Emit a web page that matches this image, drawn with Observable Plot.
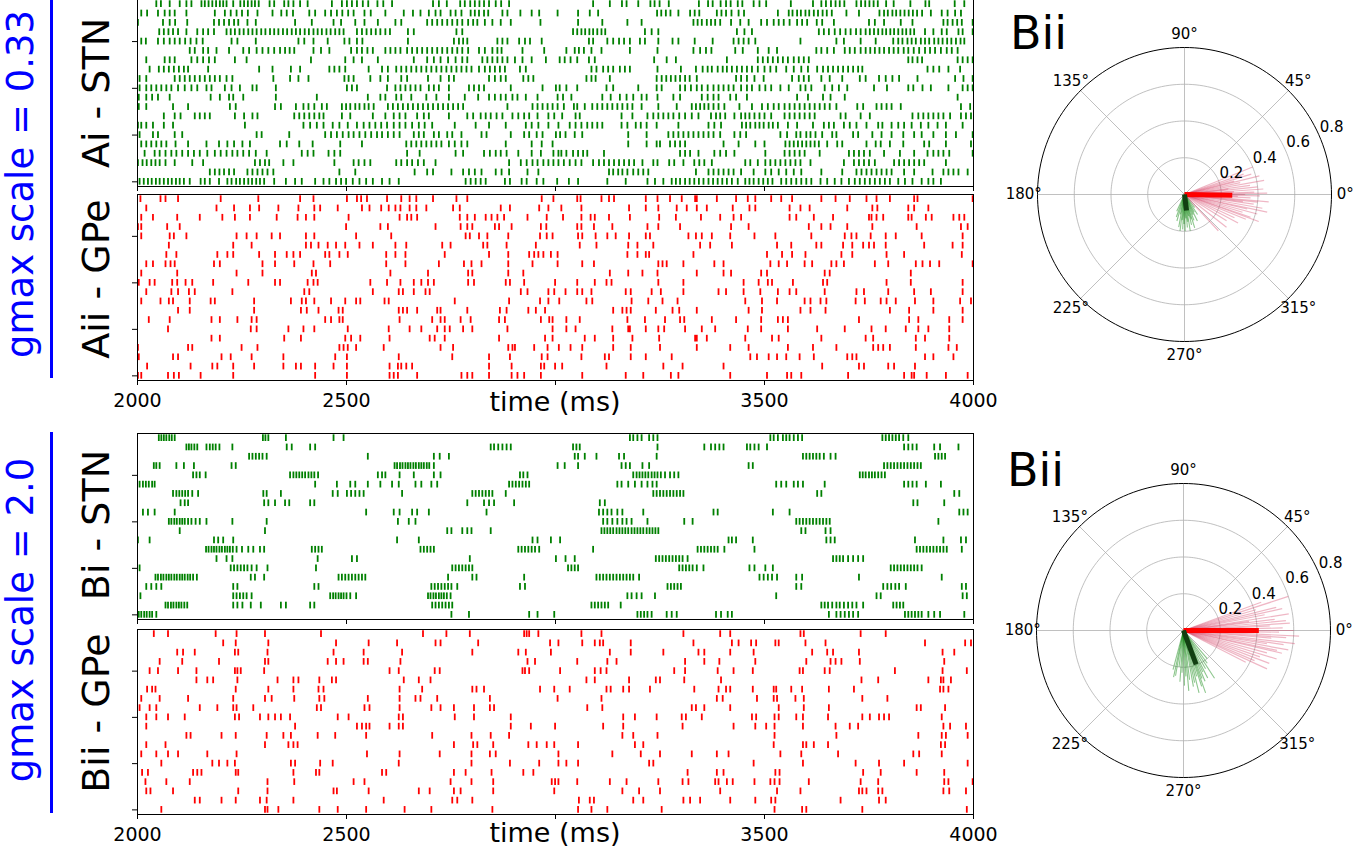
<!DOCTYPE html>
<html>
<head>
<meta charset="utf-8">
<script src="https://cdn.jsdelivr.net/npm/d3@7"></script>
<script src="https://cdn.jsdelivr.net/npm/@observablehq/plot@0.6"></script>
<style>
html,body{margin:0;padding:0;background:#fff;overflow:hidden;}
#fig{position:relative;width:1354px;height:849px;background:#fff;overflow:hidden;}
#fig > div{position:absolute;}
</style>
</head>
<body>
<div id="fig"></div>
<script>
// ---------------- DATA ----------------
// spike times, ms after 2000, one string per neuron row (listed top row first)
const xTicks = [2000, 2500, 3000, 3500, 4000];
const xTickLabels = ["2000", "2500", "", "3500", "4000"];
const rowTicks = [0, 5, 10, 15];
const panelLabels = ["Ai - STN", "Aii - GPe", "Bi - STN", "Bii - GPe"];
const scaleLabels = ["gmax scale = 0.33", "gmax scale = 2.0"];
const polarTitles = ["Bii", "Bii"];
const xLabel = "time (ms)";

const stnA = [
"45 56 77 101 117 129 153 161 170 179 188 197 205 213 229 246 255 264 273 281 290 316 327 351 361 373 389 407 465 489 501 513 525 539 552 574 588 609 707 721 740 772 783 796 807 818 829 841 857 870 889 1090 1130 1159 1170 1198 1227 1237 1249 1271 1343 1365 1376 1395 1408 1419 1436 1447 1474 1488 1504 1563 1616 1636 1647 1659 1670 1680 1691 1720 1731 1741 1751 1761 1771 1791 1809 1849 1885 1894 1955 1978",
"9 23 49 65 77 89 117 185 209 223 237 250 264 287 323 344 357 372 411 425 449 463 477 490 504 517 543 558 593 637 659 677 697 713 725 749 761 775 797 807 817 829 839 873 885 916 943 961 1005 1054 1082 1102 1243 1253 1264 1275 1294 1322 1333 1344 1386 1397 1408 1421 1438 1451 1532 1558 1567 1578 1587 1598 1607 1618 1628 1639 1649 1661 1696 1726 1775 1786 1795 1806 1815 1825 1835 1845 1855 1865 1877 1898 1924 1938 1956 1970",
"1 61 77 90 119 183 195 207 219 231 241 263 283 377 417 469 487 521 543 575 617 631 693 705 717 729 741 753 765 777 791 803 813 831 849 869 893 964 1054 1112 1172 1206 1330 1340 1350 1362 1372 1382 1394 1420 1442 1462 1492 1506 1522 1534 1546 1560 1578 1590 1602 1625 1638 1666 1750 1764 1786 1826 1854 1928 1938 1950 1961 1972 1998",
"52 63 74 85 97 117 143 157 169 183 213 223 233 244 254 265 275 285 296 306 317 327 337 348 358 369 379 389 400 410 421 431 441 452 462 473 483 493 525 537 548 559 570 581 593 604 647 661 763 777 1042 1052 1062 1071 1081 1090 1100 1110 1119 1214 1230 1246 1434 1452 1470 1630 1642 1654 1668 1681 1694 1706 1719 1730 1742 1752 1762 1772 1782 1791 1801 1810 1820 1830 1839 1849 1858 1884 1904 1924 1936 1964 1974 1998",
"9 20 49 63 77 89 101 114 127 141 156 225 239 283 385 399 421 455 495 507 525 538 647 757 769 779 789 861 873 885 913 927 939 967 1080 1090 1124 1138 1152 1164 1178 1202 1214 1246 1280 1294 1333 1376 1426 1438 1450 1462 1478 1586 1672 1690 1730 1766 1808 1820 1830 1842 1852 1862 1874 1884 1894 1906 1916 1926 1937 1947 1958 1969 1978",
"125 137 157 169 189 219 253 267 285 299 313 327 341 353 364 375 421 439 459 511 525 537 550 563 593 605 617 629 645 657 669 681 693 705 717 729 741 753 765 777 791 817 831 849 861 871 921 973 1026 1046 1056 1068 1086 1110 1178 1244 1330 1346 1360 1373 1430 1448 1484 1510 1530 1624 1636 1650 1666 1692 1704 1716 1730 1742 1753 1764 1775 1786 1798 1809 1820 1833 1844 1857 1870 1884 1896 1908 1922 1936 1948 1962",
"21 65 77 89 129 143 157 171 185 233 261 415 497 517 537 575 661 693 709 725 743 761 777 789 825 837 849 861 873 885 903 921 943 977 1010 1022 1036 1052 1080 1094 1236 1266 1288 1410 1484 1496 1508 1520 1532 1544 1556 1570 1582 1594 1606 1844 1854 1866 1877 1962 1974 1986 1998",
"29 51 63 75 87 99 111 121 169 291 323 367 389 459 471 483 497 553 585 599 619 631 643 655 667 679 691 703 715 727 739 751 763 775 787 799 817 831 843 855 867 879 915 929 1086 1098 1114 1126 1138 1154 1166 1178 1244 1300 1336 1352 1364 1374 1388 1400 1410 1422 1434 1446 1458 1470 1484 1500 1514 1528 1552 1570 1588 1604 1626 1640 1652 1664 1676 1688 1700 1712 1724 1734 1890 1904 1918 1940 1968",
"5 21 89 101 113 125 137 149 161 173 185 197 213 227 325 365 385 409 495 505 517 557 581 599 631 645 695 725 745 757 841 855 869 881 923 935 947 1074 1086 1096 1130 1242 1254 1265 1276 1287 1298 1310 1321 1338 1432 1444 1458 1476 1498 1566 1582 1594 1606 1636 1656 1686 1728 1742 1774 1790 1806 1822 1866 1956 1976 1998",
"5 21 33 45 57 69 81 97 113 129 143 165 177 209 225 245 275 285 331 501 513 525 597 617 629 641 653 665 677 697 709 721 745 793 805 817 829 893 969 1001 1010 1026 1052 1122 1138 1198 1242 1254 1298 1310 1324 1338 1350 1364 1378 1390 1402 1414 1426 1444 1458 1470 1488 1502 1516 1538 1558 1586 1598 1612 1644 1662 1678 1698 1762 1793 1844 1856 1878 1898 1940 1974 1986 1998",
"3 21 35 49 77 175 197 219 229 253 331 429 551 581 593 619 631 655 691 715 745 783 815 841 855 869 881 897 909 929 957 1005 1018 1038 1112 1132 1154 1170 1186 1206 1218 1244 1282 1298 1350 1364 1378 1390 1418 1432 1458 1578 1604 1640 1658 1692 1962",
"3 21 85 121 221 235 329 343 379 397 409 423 441 453 489 499 509 521 531 543 553 565 599 611 623 635 647 659 671 683 695 707 719 731 743 755 767 779 885 945 957 969 981 993 1005 1020 1044 1052 1070 1088 1100 1112 1124 1136 1148 1160 1172 1184 1206 1246 1290 1326 1336 1346 1356 1366 1378 1390 1404 1440 1470 1494 1508 1522 1534 1548 1560 1572 1584 1596 1608 1620 1632 1644 1656 1672 1722 1736 1768 1780 1792 1804 1826 1970 1992",
"63 89 103 137 149 161 173 233 255 275 287 375 387 399 411 423 435 445 489 509 563 593 613 627 641 669 685 697 745 789 803 821 833 845 859 873 897 911 925 937 957 983 997 1016 1048 1058 1158 1184 1220 1234 1246 1258 1270 1282 1296 1310 1326 1342 1372 1384 1394 1406 1428 1444 1454 1464 1476 1488 1500 1516 1548 1560 1572 1584 1596 1608 1620 1682 1694 1730 1752 1854 1868 1880 1892 1904 1916 1928 1944 1970 1982 1994",
"1 9 21 37 63 85 257 397 413 429 445 467 483 503 525 541 555 569 583 597 613 627 641 657 673 687 705 759 809 841 881 929 943 959 983 1007 1034 1048 1062 1076 1088 1100 1112 1158 1172 1192 1204 1218 1242 1294 1366 1380 1396 1446 1456 1466 1478 1488 1498 1510 1520 1532 1556 1578 1616 1642 1654 1666 1690 1704 1720 1744 1772 1782 1804 1820 1834 1852 1874 1892 1914 1934 1974",
"5 37 49 89 107 285 297 363 449 463 477 491 505 517 531 545 559 573 585 599 613 627 661 673 685 709 721 741 753 775 823 835 893 925 937 955 969 1001 1011 1024 1046 1064 1174 1218 1270 1282 1294 1306 1318 1330 1342 1354 1366 1378 1394 1428 1442 1456 1538 1554 1576 1586 1600 1610 1622 1638 1662 1672 1712 1724 1758 1780 1804 1832 1858 1876 1904 1934 1958 1998",
"9 21 33 45 57 69 91 121 165 195 215 231 251 269 341 357 387 419 485 537 643 655 667 679 691 703 715 727 745 759 775 789 881 943 967 993 1174 1218 1242 1250 1274 1286 1298 1310 1402 1438 1478 1500 1550 1560 1570 1580 1590 1600 1610 1620 1630 1650 1674 1686 1744 1766 1778 1800 1832 1882 1894 1934 1994",
"17 41 53 67 81 93 107 121 135 149 167 185 199 213 227 239 253 267 283 309 393 407 421 457 471 485 645 675 761 779 829 843 857 869 883 911 943 965 995 1007 1014 1026 1042 1054 1066 1076 1116 1298 1310 1322 1342 1380 1394 1408 1428 1502 1548 1560 1572 1584 1596 1632 1702 1714 1726 1738 1752 1786 1824 1858 1890 1904 1916 1928 1942 1998",
"1 12 22 33 43 53 67 89 131 157 281 293 305 315 349 373 471 517 529 543 557 619 631 645 657 671 685 713 889 917 931 945 957 971 983 995 1007 1020 1034 1048 1062 1090 1104 1116 1128 1140 1152 1164 1176 1188 1208 1234 1244 1272 1284 1306 1332 1344 1356 1374 1454 1466 1484 1502 1514 1526 1538 1550 1562 1574 1586 1610 1690 1714 1726 1738 1750 1764 1810 1822 1834 1846 1858 1870 1882 1934",
"173 185 196 207 219 231 263 275 287 299 311 325 483 521 663 693 707 751 779 793 807 823 857 871 889 933 959 1128 1138 1150 1160 1172 1186 1198 1210 1222 1336 1366 1378 1390 1402 1414 1426 1444 1474 1502 1516 1534 1552 1570 1588 1636 1686 1720 1732 1744 1756 1768 1780 1792 1804 1834 1858 1902 1928 1940 1952 1964 1986",
"5 15 25 34 44 53 63 73 82 92 101 111 125 151 161 173 195 215 225 236 245 255 265 274 284 293 303 327 355 377 393 425 445 459 475 487 499 515 531 547 563 585 603 625 785 797 809 821 833 879 891 919 931 955 971 1004 1032 1054 1124 1168 1220 1238 1258 1278 1288 1298 1310 1321 1332 1343 1354 1366 1377 1388 1399 1410 1422 1436 1454 1464 1474 1486 1497 1508 1519 1540 1552 1564 1576 1588 1600 1612 1634 1650 1668 1684 1702 1716 1728 1740 1752 1764 1776 1788 1800 1820 1836 1854 1876 1892 1904 1922"
];

const gpeA = [
"7 55 67 97 199 289 389 421 501 525 535 549 597 631 651 667 707 763 789 967 995 1052 1060 1110 1128 1140 1216 1244 1274 1302 1334 1338 1386 1432 1460 1478 1516 1540 1566 1636 1670 1704 1744 1768 1800 1858 1866 1998",
"21 189 231 269 291 337 385 423 437 479 537 555 583 601 617 629 651 667 691 755 771 869 891 961 983 1014 1062 1176 1216 1246 1290 1314 1338 1362 1424 1464 1478 1560 1586 1608 1698 1758 1770 1844 1858 1892",
"9 37 95 149 203 233 269 333 383 403 423 505 627 645 655 669 771 789 807 833 847 861 877 933 979 1018 1062 1084 1094 1128 1178 1248 1288 1348 1394 1426 1444 1560 1576 1618 1664 1750 1756 1768 1784 1844 1852 1886 1900 1952 1966 1978",
"1 9 71 101 499 581 599 713 773 789 801 855 865 895 965 978 1052 1062 1092 1136 1220 1246 1298 1420 1462 1606 1636 1658 1698 1758 1864 1970 1986",
"9 77 87 117 237 261 285 321 341 403 423 523 607 785 795 817 837 887 963 979 993 1054 1064 1096 1124 1144 1176 1216 1226 1318 1336 1350 1374 1418 1476 1526 1612 1692 1708 1720 1754 1790 1814 1876 1974",
"75 229 273 403 415 433 455 475 497 531 563 617 643 729 749 827 837 883 953 1058 1098 1174 1196 1234 1346 1370 1422 1530 1564 1624 1636 1688 1710 1736 1750 1762 1790 1882 1950 1974",
"69 93 191 215 229 291 329 357 373 389 449 459 483 503 595 617 641 735 841 887 937 949 959 971 989 1005 1172 1196 1216 1224 1330 1506 1542 1566 1598 1684 1710 1792 1834 1972",
"21 37 67 79 89 183 197 299 329 375 421 461 595 641 721 781 799 823 887 945 1005 1064 1092 1246 1256 1266 1306 1380 1402 1514 1534 1554 1596 1614 1660 1672 1690 1764 1796 1862 1878 1896 1918 1998",
"9 95 237 299 417 427 605 695 791 801 887 923 1130 1174 1208 1244 1338 1402 1420 1492 1506 1644 1656 1850",
"3 29 41 83 95 115 131 181 265 329 341 407 421 431 557 597 629 661 679 695 709 791 805 881 891 925 999 1052 1094 1122 1134 1246 1306 1450 1486 1508 1518 1568 1640 1650 1792 1850 1974",
"21 81 97 123 137 227 399 411 563 625 635 661 689 699 917 933 983 997 1024 1052 1064 1086 1168 1180 1230 1252 1306 1390 1408 1450 1490 1532 1560 1576 1644 1720 1738 1796 1858 1898 1974",
"9 55 75 85 125 175 185 279 367 393 403 423 463 497 523 533 591 601 759 889 963 983 1009 1074 1088 1182 1222 1256 1292 1454 1494 1530 1596 1610 1634 1648 1718 1740 1778 1792 1814 1860 1904 1968 1994",
"97 125 279 391 405 433 481 491 625 635 645 669 717 725 789 867 883 935 953 975 1138 1160 1170 1180 1240 1280 1296 1338 1462 1494 1586 1610 1646 1800 1846 1904 1974",
"27 77 177 197 239 273 285 449 463 483 491 627 705 725 735 773 797 865 879 965 985 993 1026 1058 1172 1214 1262 1298 1308 1374 1432 1492 1532 1544 1556 1726 1846 1868 1942 1974",
"73 271 285 361 397 423 503 601 651 679 717 735 747 779 801 885 993 1026 1048 1136 1174 1178 1216 1246 1260 1310 1350 1382 1460 1492 1556 1626 1692 1756 1790 1838 1868 1892 1942",
"177 197 351 391 497 511 533 603 699 711 735 865 975 993 1070 1094 1138 1184 1248 1334 1338 1362 1454 1518 1534 1636 1742 1760 1862 1884 1942",
"1 121 131 249 287 483 493 503 523 589 725 755 887 897 903 949 981 1008 1036 1064 1138 1180 1250 1338 1418 1462 1556 1616 1672 1760 1772 1784 1800 1862 1940 1960",
"3 85 97 201 223 273 349 473 501 625 753 841 891 967 981 1062 1118 1128 1180 1216 1278 1466 1482 1510 1530 1552 1584 1618 1698 1710 1720 1884 1904 1952",
"23 127 179 191 229 279 349 379 391 425 469 501 603 623 631 643 657 841 895 965 973 999 1016 1122 1258 1304 1402 1638 1726 1738 1796 1810 1860",
"1 9 73 87 99 151 229 425 501 603 613 623 669 775 789 801 841 895 909 925 965 1064 1168 1210 1276 1294 1418 1506 1554 1564 1588 1700 1834 1852 1858 1888 1934 1986"
];

const stnB = [
"51 57 63 69 76 82 89 300 306 313 355 469 493 1178 1186 1196 1206 1224 1234 1244 1514 1522 1532 1544 1552 1560 1570 1580 1590 1782 1790 1798 1806 1814 1822 1832 1844",
"117 123 129 136 143 165 173 180 187 196 227 357 369 413 425 845 853 863 873 883 893 1042 1050 1058 1244 1356 1372 1382 1392 1402 1458 1466 1476 1486 1506 1834 1844 1854 1864 1906 1920 1964",
"267 275 283 291 299 309 551 709 723 745 1046 1054 1070 1098 1152 1164 1242 1592 1600 1608 1616 1624 1632 1642 1658 1670 1908 1916 1924 1932",
"39 45 53 93 111 135 225 235 615 621 628 634 641 647 653 660 666 673 679 685 692 698 709 1005 1022 1054 1158 1168 1178 1208 1224 1462 1472 1786 1794 1802 1810 1818 1826 1834 1842 1850 1858 1866 1874",
"133 141 149 163 365 373 380 387 394 401 409 416 423 432 575 585 593 627 661 709 725 915 923 933 1186 1194 1201 1208 1215 1222 1230 1237 1244 1252 1262 1274 1284 1294 1728 1735 1742 1750 1757 1764 1772 1780 1788",
"5 13 20 27 35 41 425 477 509 521 551 581 609 625 665 679 703 717 889 897 905 913 921 929 937 1148 1158 1174 1190 1206 1220 1232 1242 1528 1540 1552 1570 1580 1592 1644 1834 1844 1854 1864 1886 1922",
"85 93 100 107 114 121 131 145 301 309 343 467 479 501 511 521 531 541 633 801 809 817 825 833 841 849 881 1234 1242 1250 1258 1266 1274 1282 1290 1298 1306 1626 1636 1954 1966",
"103 113 121 303 313 329 353 363 413 423 789 829 841 853 901 1106 1118 1856 1866 1930",
"13 25 41 89 547 613 627 657 669 697 835 1104 1114 1124 1134 1148 1160 1210 1378 1388 1520 1560 1966 1976 1986",
"75 81 88 94 101 107 113 121 129 139 149 165 227 309 623 649 665 1114 1124 1136 1148 1160 1170 1182 1220 1308 1328 1576 1584 1592 1600 1608 1616 1624 1632 1640 1648 1656 1916",
"101 305 741 751 777 789 799 845 1110 1117 1124 1131 1138 1146 1153 1160 1167 1174 1182 1189 1196 1203 1210 1218 1225 1232 1239 1246 1588 1598 1646 1658",
"1 29 183 193 205 229 621 673 945 957 989 1011 1414 1422 1432 1472 1648 1658 1668 1860 1928 1970 1982",
"164 170 177 183 189 196 202 209 215 221 228 237 250 265 277 293 303 417 425 433 441 677 685 693 701 709 911 919 927 935 943 951 961 1090 1340 1348 1356 1364 1372 1380 1388 1404 1476 1864 1872 1880 1888 1896 1904 1912 1920 1928 1936 1972",
"189 213 227 431 513 525 795 1001 1024 1046 1240 1248 1256 1264 1272 1280 1288 1296 1304 1316 1664 1672 1680 1688 1700 1712 1724 1736",
"5 223 231 239 247 255 263 273 285 311 427 753 761 769 777 785 793 801 1030 1038 1046 1054 1296 1304 1312 1320 1328 1338 1354 1464 1476 1502 1520 1802 1810 1818 1826 1834 1842 1850 1858 1866 1876",
"43 49 56 62 69 75 81 88 94 101 107 113 120 126 133 142 271 281 303 481 489 497 505 513 521 529 537 545 743 801 811 925 1098 1106 1114 1122 1130 1138 1146 1154 1162 1170 1178 1186 1200 1488 1498 1508 1518 1530 1576 1590 1726 1924",
"21 33 45 57 229 239 423 433 703 711 719 727 735 743 751 765 915 927 1268 1276 1284 1292 1300 1576 1588 1784 1794 1803 1813 1822 1838 1972 1982",
"7 229 237 245 253 261 273 461 468 474 481 487 493 500 509 523 695 701 708 714 721 727 733 740 749 1172 1182 1194 1206 1238 1528 1768 1778 1974 1984",
"67 73 80 86 93 99 105 112 119 229 239 251 271 295 343 355 413 423 705 713 721 729 737 745 753 1086 1094 1102 1110 1118 1126 1156 1636 1644 1652 1662 1672 1680 1690 1700 1710 1720 1736 1808 1816 1824 1832",
"3 9 16 22 29 35 45 751 793 937 957 997 1196 1204 1212 1220 1230 1266 1278 1290 1384 1396 1412 1422 1654 1672 1682 1692 1702 1712 1724 1836 1844 1852 1860 1868 1876 1892 1906 1920 1978"
];

const gpeB = [
"39 73 187 237 305 439 683 739 795 925 931 937 959 1062 1110 1306 1394 1418 1586 1594 1730 1790",
"205 235 313 475 553 621 713 725 815 987 1007 1064 1094 1106 1114 1180 1330 1422 1438 1468 1480 1526 1534 1598 1646 1884 1980 1994",
"95 109 137 233 241 311 469 541 633 801 911 929 989 1130 1180 1258 1342 1356 1418 1474 1614 1650 1664 1726 1926 1954",
"53 107 195 305 313 455 475 493 541 551 629 933 951 1052 1124 1146 1310 1356 1392 1478 1600 1658 1670 1684 1728 1930",
"29 49 97 141 233 239 247 303 603 625 711 723 921 927 937 1011 1094 1108 1122 1284 1310 1388 1426 1472 1584 1592 1644 1656 1812 1926 1984",
"141 167 181 239 335 373 385 435 465 475 637 673 701 1074 1094 1176 1240 1250 1308 1396 1732 1772 1892 1922 1928 1946",
"23 35 43 235 313 373 433 445 627 681 801 811 829 963 997 1034 1122 1132 1162 1176 1226 1332 1390 1408 1418 1472 1522 1528 1564 1590 1654 1714 1920 1928 1940",
"9 53 121 229 305 321 375 435 447 551 627 665 677 717 843 1005 1110 1386 1400 1482 1522 1530 1574 1594 1734 1794",
"5 29 45 149 191 229 237 277 429 439 543 555 627 703 725 757 805 843 853 1076 1112 1326 1336 1356 1418 1534 1594 1654 1864 1874 1932",
"21 45 73 113 233 243 293 313 329 343 365 479 505 625 635 759 805 893 1162 1190 1242 1302 1312 1350 1470 1480 1524 1534 1576 1592 1652 1734 1752 1774 1786 1798 1924",
"21 377 525 537 547 555 603 625 635 893 941 999 1114 1162 1304 1426 1478 1504 1524 1592 1670 1704 1724 1928 1944 1982",
"117 127 201 235 309 349 367 431 473 547 705 799 845 889 1160 1186 1244 1524 1672 1868 1924 1934 1986",
"21 67 305 361 373 383 757 803 813 851 935 955 979 997 1054 1190 1210 1522 1592 1600 1618 1652 1922 1932",
"9 45 73 97 167 237 549 627 723 799 843 857 1007 1136 1204 1250 1326 1386 1414 1538 1588 1676 1856 1870 1924",
"57 179 195 215 233 367 377 437 467 625 799 891 961 1007 1026 1054 1224 1234 1474 1592 1718 1774 1834 1986",
"11 25 133 143 153 235 241 373 427 435 585 595 757 785 847 923 947 1316 1386 1402 1526 1536 1736 1778 1864 1930",
"19 69 125 311 375 517 543 749 799 851 991 999 1007 1052 1130 1170 1246 1304 1318 1382 1390 1410 1424 1476 1514 1524 1536 1606 1730 1772 1930 1940 1998",
"21 31 85 241 311 469 477 553 673 699 757 773 851 997 1160 1200 1250 1394 1530 1586 1726 1734 1744 1772 1782 1928 1942 1982",
"137 149 201 235 293 309 373 589 753 765 801 1056 1082 1092 1186 1210 1306 1322 1346 1418 1478 1516 1526 1682 1774 1790",
"57 305 311 337 435 479 547 639 703 849 1054 1086 1124 1254 1524 1590 1600 1734 1984"
];

// polar panels: [phase angle in degrees, vector length]
const polarA_red = [[22,0.40],[19,0.34],[17,0.38],[15,0.28],[14,0.42],[12,0.31],[10,0.44],[8,0.36],[7,0.24],[6,0.40],[4,0.43],[3,0.27],[2,0.38],[1,0.45],[0,0.33],[-1,0.41],[-2,0.29],[-3,0.36],[-5,0.46],[-6,0.40],[-7,0.32],[-8,0.38],[-10,0.43],[-12,0.46],[-13,0.35],[-15,0.41],[-17,0.33],[-19,0.38],[-20,0.43],[-22,0.36],[-25,0.30],[-28,0.33],[-32,0.27],[-38,0.29],[-47,0.27]];
const polarA_green = [[245,0.10],[250,0.13],[254,0.15],[258,0.11],[260,0.18],[263,0.20],[265,0.14],[267,0.19],[269,0.16],[271,0.20],[273,0.13],[275,0.18],[277,0.15],[279,0.20],[281,0.12],[283,0.17],[285,0.14],[287,0.19],[290,0.15],[293,0.12],[296,0.16],[299,0.11],[303,0.13],[308,0.09]];
const polarA_mean = {red: [-1, 0.26], green: [277, 0.088]};
const polarB_red = [[20,0.45],[18,0.60],[16,0.41],[14,0.52],[12.5,0.55],[11,0.45],[9,0.58],[8,0.36],[7,0.50],[5.5,0.56],[4,0.58],[3,0.47],[1.5,0.54],[0,0.60],[-1,0.52],[-2.8,0.63],[-4,0.56],[-5,0.48],[-6.7,0.61],[-8,0.55],[-9,0.46],[-10.5,0.58],[-12,0.52],[-13,0.55],[-15,0.47],[-17,0.53],[-19,0.44],[-21,0.50],[-23,0.42],[-24.7,0.50],[-27,0.38]];
const polarB_green = [[255,0.22],[258,0.26],[260,0.25],[263,0.20],[266,0.28],[268,0.23],[271,0.30],[273,0.25],[275,0.33],[277,0.27],[280,0.31],[282,0.29],[284,0.35],[286,0.26],[288,0.32],[289.5,0.36],[291,0.28],[293,0.30],[295,0.25],[297,0.29],[300,0.24],[303,0.31],[306,0.22],[310,0.20]];
const polarB_mean = {red: [0, 0.41], green: [290.4, 0.197]};
const ringLevels = [0.2, 0.4, 0.6];
const rMax = 0.8;
const ringLabelValues = [0.2, 0.4, 0.6, 0.8];
const spokeAngles = [0, 45, 90, 135, 180, 225, 270, 315];

// ---------------- DRAWING ----------------
const FONT = "'DejaVu Sans', 'Liberation Sans', sans-serif";
const fig = document.getElementById("fig");
function place(node, left, top, w, h) {
  const d = document.createElement("div");
  d.style.left = left + "px"; d.style.top = top + "px";
  d.style.width = w + "px"; d.style.height = h + "px";
  d.appendChild(node); fig.appendChild(d);
}
function parseRows(rows) {
  const out = [];
  rows.forEach((s, i) => {
    const row = rows.length - 1 - i;
    s.trim().split(/\s+/).forEach(v => out.push({t: 2000 + Number(v), row}));
  });
  return out;
}
const PX0 = 137, PW = 836;
function raster(rows, color, top, height, withLabels) {
  const ML = 40, MR = 10, MT = 0, MB = withLabels ? 45 : 10;
  const W = ML + PW + MR, H = height + MT + MB;
  const chart = Plot.plot({
    width: W, height: H,
    marginLeft: ML, marginRight: MR, marginTop: MT, marginBottom: MB,
    style: {fontFamily: FONT, fontSize: "19px", background: "transparent", overflow: "visible", maxWidth: "none", color: "#000"},
    x: {domain: [2000, 4000], ticks: xTicks, tickSize: 5, tickPadding: 8,
        tickFormat: withLabels ? (d => xTickLabels[xTicks.indexOf(d)]) : (() => ""), label: null},
    y: {domain: [-0.5, 19.5], ticks: rowTicks, tickSize: 5, tickFormat: () => "", label: null},
    marks: [
      Plot.ruleX(parseRows(rows), {x: "t", y1: d => d.row - 0.36, y2: d => d.row + 0.36, stroke: color, strokeWidth: 1.8}),
      Plot.frame({stroke: "#000", strokeWidth: 1})
    ]
  });
  place(chart, PX0 - ML, top - MT, W, H);
}

raster(stnA, "green", -1, 187, false);
raster(gpeA, "red", 194, 186, true);
raster(stnB, "green", 432.5, 186, false);
raster(gpeB, "red", 629, 185, true);

function polar(cx, cy, red, green, mean) {
  const S = 400, K = 183.75, D = S / 2 / K;
  const rad = a => a * Math.PI / 180;
  const px = (r, a) => r * Math.cos(rad(a)), py = (r, a) => r * Math.sin(rad(a));
  const ringPts = [];
  ringLevels.forEach(r => { for (let a = 0; a <= 360; a += 2) ringPts.push({r, a}); });
  const outerPts = d3.range(0, 361, 2).map(a => ({r: rMax, a}));
  const vec = (arr, opts) => Plot.link(arr, {x1: () => 0, y1: () => 0, x2: d => px(d[1], d[0]), y2: d => py(d[1], d[0]), ...opts});
  const chart = Plot.plot({
    width: S, height: S, margin: 0,
    style: {fontFamily: FONT, background: "transparent", overflow: "visible", maxWidth: "none", color: "#000"},
    x: {domain: [-D, D], axis: null},
    y: {domain: [-D, D], axis: null},
    marks: [
      Plot.line(ringPts, {x: d => px(d.r, d.a), y: d => py(d.r, d.a), z: "r", stroke: "#b0b0b0", strokeWidth: 0.8}),
      Plot.link(spokeAngles, {x1: () => 0, y1: () => 0, x2: a => px(rMax, a), y2: a => py(rMax, a), stroke: "#b0b0b0", strokeWidth: 0.8}),
      vec(red, {stroke: "#d0305a", strokeOpacity: 0.35, strokeWidth: 1.2}),
      vec(green, {stroke: "green", strokeOpacity: 0.45, strokeWidth: 1.1}),
      vec([mean.red], {stroke: "red", strokeWidth: 5}),
      vec([mean.green], {stroke: "#123f12", strokeWidth: 5}),
      Plot.line(outerPts, {x: d => px(d.r, d.a), y: d => py(d.r, d.a), stroke: "#000", strokeWidth: 1}),
      Plot.text(spokeAngles, {x: a => px(0.875, a), y: a => py(0.875, a), text: a => a + "°", fontSize: 15, fill: "#000"}),
      Plot.text(ringLabelValues, {x: v => px(v + 0.08, 24.5), y: v => py(v + 0.08, 24.5), text: v => v.toFixed(1), fontSize: 15, fill: "#000"})
    ]
  });
  place(chart, cx - S / 2, cy - S / 2, S, S);
}
polar(1183.7, 194, polarA_red, polarA_green, polarA_mean);
polar(1182.7, 630.3, polarB_red, polarB_green, polarB_mean);

// overlay texts and side bars
const ov = d3.select(fig).append("svg")
  .attr("width", 1354).attr("height", 849)
  .style("position", "absolute").style("left", "0px").style("top", "0px");
ov.append("rect").attr("x", 50).attr("y", 0).attr("width", 3).attr("height", 378).attr("fill", "blue");
ov.append("rect").attr("x", 50).attr("y", 432).attr("width", 3).attr("height", 381).attr("fill", "blue");
function vtext(str, x, y, size, color) {
  ov.append("text").attr("transform", `translate(${x},${y}) rotate(-90)`)
    .attr("text-anchor", "middle").attr("font-family", FONT).attr("font-size", size)
    .attr("fill", color).text(str);
}
vtext(scaleLabels[0], 33, 184, 37, "blue");
vtext(scaleLabels[1], 33, 620, 37, "blue");
vtext(panelLabels[0], 109, 93, 38, "#000");
vtext(panelLabels[1], 109, 279, 38, "#000");
vtext(panelLabels[2], 109, 525, 38, "#000");
vtext(panelLabels[3], 109, 713, 38, "#000");
function htext(str, x, y, size, anchor) {
  ov.append("text").attr("x", x).attr("y", y).attr("text-anchor", anchor)
    .attr("font-family", FONT).attr("font-size", size).attr("fill", "#000").text(str);
}
htext(polarTitles[0], 1010, 49, 46, "start");
htext(polarTitles[1], 1007, 486, 46, "start");
htext(xLabel, 555, 411, 27, "middle");
htext(xLabel, 555, 842, 27, "middle");
</script>
